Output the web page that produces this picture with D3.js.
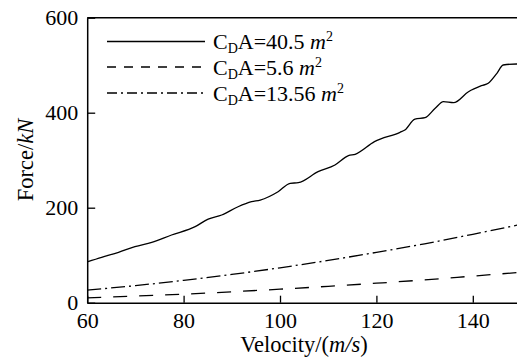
<!DOCTYPE html>
<html>
<head>
<meta charset="utf-8">
<script src="https://cdn.jsdelivr.net/npm/d3@7"></script>
<style>
  html, body { margin: 0; padding: 0; background: #fff; }
  svg { display: block; }
  text { font-family: "Liberation Serif", "Times New Roman", serif; fill: #000; }
</style>
</head>
<body>
<svg id="chart" width="517" height="360"></svg>
<script>
// ---- data ----
const seriesNames = ["40.5", "5.6", "13.56"];
const xTicks = [60, 80, 100, 120, 140];
const yTicks = [0, 200, 400, 600];

const v1 = [60, 63, 66.5, 69.9, 73.4, 77.5, 82.4, 85.1, 87.9, 91.3, 94.1, 95.9, 99.6, 102.1, 103.8, 107.9, 111.4, 114.2, 115.6, 119.6, 124.9, 125.9, 128.0, 130.1, 132.2, 133.9, 136.0, 139.1, 141.8, 143.2, 145.0, 146.3, 149.1, 150];
const f1 = [86, 95.6, 106, 118, 127, 142.5, 160, 176, 184.6, 202, 212.6, 216.2, 233.7, 251.4, 252.6, 275.8, 290, 309.5, 312.4, 339, 358.7, 363.6, 386.7, 389.5, 409.3, 423.2, 421.1, 444.2, 456.8, 461.9, 482.9, 500.4, 502.5, 502.5];

const v2 = [60, 70, 80, 90, 100, 110, 120, 130, 140, 150];
const f2 = [10, 14, 18, 23, 28.5, 34.5, 41, 48, 56, 64];

const v3 = [60, 70, 80, 90, 100, 110, 120, 130, 140, 150];
const f3 = [26.5, 36, 47, 59.5, 73.5, 89, 106, 124, 144, 165];

// ---- layout ----
const svg = d3.select("#chart");
const x = d3.scaleLinear().domain([60, 150]).range([87.2, 521]);
const y = d3.scaleLinear().domain([0, 600]).range([302.7, 17.7]);

const defs = svg.append("defs");
defs.append("clipPath").attr("id", "plotclip")
  .append("rect").attr("x", 87.2).attr("y", 17.7).attr("width", 521 - 87.2).attr("height", 302.7 - 17.7);

const line = d3.line().x(d => x(d[0])).y(d => y(d[1])).curve(d3.curveMonotoneX);

const plotDash = [null, "14,12", "14,4,2,4"];
const legendDash = [null, "9,8", "10,4,2,4"];
const data = [
  v1.map((v, i) => [v, f1[i]]),
  v2.map((v, i) => [v, f2[i]]),
  v3.map((v, i) => [v, f3[i]])
];

const g = svg.append("g").attr("clip-path", "url(#plotclip)");
data.forEach((d, i) => {
  g.append("path").datum(d)
    .attr("d", line)
    .attr("fill", "none")
    .attr("stroke", "#000")
    .attr("stroke-width", 1.3)
    .attr("stroke-dasharray", plotDash[i]);
});

// top border
svg.append("line").attr("x1", 87.2).attr("x2", 521).attr("y1", y(600)).attr("y2", y(600))
  .attr("stroke", "#000").attr("stroke-width", 1.5);

// axes
const xAxis = svg.append("g").attr("transform", "translate(0,302.7)")
  .call(d3.axisBottom(x).tickValues(xTicks).tickSizeInner(-7).tickSizeOuter(0).tickPadding(10).tickFormat(d3.format("d")));
const yAxis = svg.append("g").attr("transform", "translate(87.2,0)")
  .call(d3.axisLeft(y).tickValues(yTicks).tickSizeInner(-8).tickSizeOuter(0).tickPadding(9).tickFormat(d3.format("d")));

[xAxis, yAxis].forEach(a => {
  a.attr("font-family", "Liberation Serif").attr("font-size", 22);
  a.select(".domain").attr("stroke", "#000").attr("stroke-width", 1.5);
  a.selectAll(".tick line").attr("stroke", "#000").attr("stroke-width", 1.3);
  a.selectAll(".tick text").style("font-family", '"Liberation Serif", serif').style("font-size", "22px").attr("fill", "#000");
});

// axis titles
const xt = svg.append("text").attr("x", 304).attr("y", 352).attr("text-anchor", "middle").style("font-size", "22.5px");
xt.append("tspan").text("Velocity/(");
xt.append("tspan").style("font-style", "italic").text("m/s");
xt.append("tspan").text(")");

const yt = svg.append("text").attr("transform", "translate(33,160) rotate(-90)").attr("text-anchor", "middle").style("font-size", "22.5px");
yt.append("tspan").text("Force/");
yt.append("tspan").style("font-style", "italic").text("kN");

// legend
const rows = [41.5, 67, 93];
seriesNames.forEach((name, i) => {
  svg.append("line").attr("x1", 107).attr("x2", 205).attr("y1", rows[i]).attr("y2", rows[i])
    .attr("stroke", "#000").attr("stroke-width", 1.3).attr("stroke-dasharray", legendDash[i]);
  const t = svg.append("text").attr("x", 213).attr("y", rows[i] + 7.5).style("font-size", "22px");
  t.append("tspan").text("C");
  t.append("tspan").attr("dy", 4).style("font-size", "14px").text("D");
  t.append("tspan").attr("dy", -4).text("A=" + name + " ");
  t.append("tspan").style("font-style", "italic").text("m");
  t.append("tspan").attr("dy", -8).style("font-size", "14px").text("2");
});
</script>
</body>
</html>
